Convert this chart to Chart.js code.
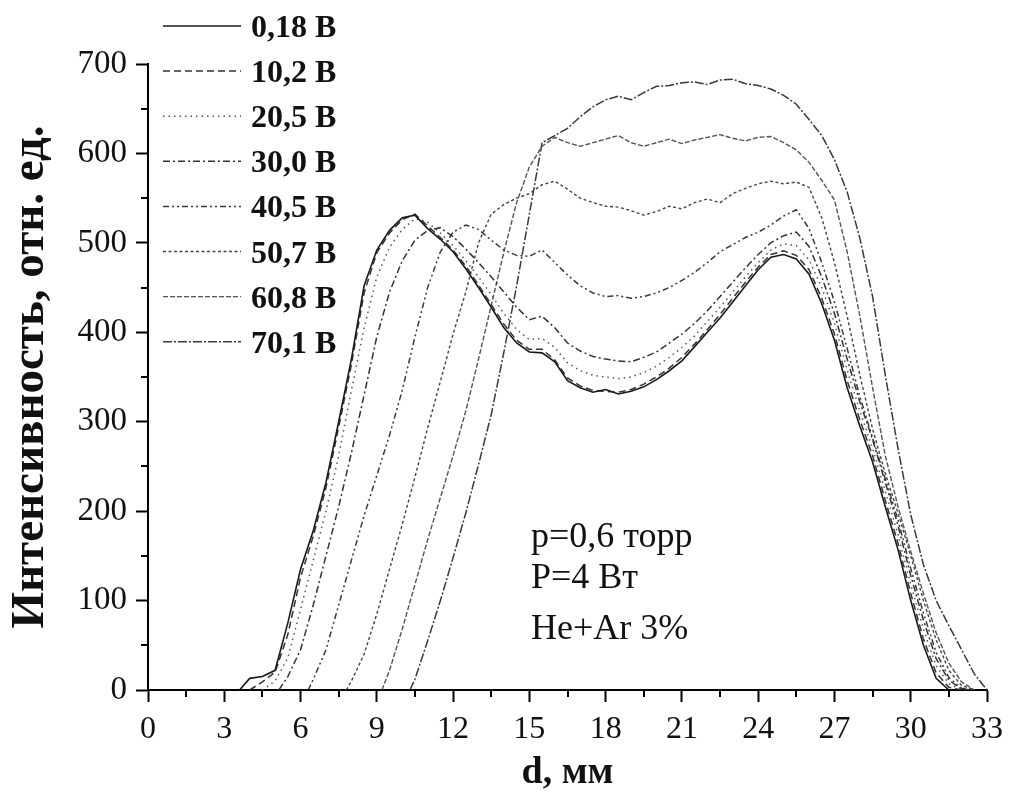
<!DOCTYPE html>
<html><head><meta charset="utf-8">
<script src="https://cdn.jsdelivr.net/npm/chart.js@4/dist/chart.umd.min.js"></script>
<style>html,body{margin:0;padding:0;background:#fff;}#wrap{width:1011px;height:794px;}</style>
</head><body><div id="wrap"><canvas id="c" width="1011" height="794"></canvas></div>
<script>
// distance grid, mm
const xGrid = [3.5,4,4.5,5,5.5,6,6.5,7,7.5,8,8.5,9,9.5,10,10.5,11,11.5,12,12.5,13,13.5,14,14.5,15,15.5,16,16.5,17,17.5,18,18.5,19,19.5,20,20.5,21,21.5,22,22.5,23,23.5,24,24.5,25,25.5,26,26.5,27,27.5,28,28.5,29,29.5,30,30.5,31,31.5,32,32.5,33];
const seriesLabels = ['0,18 В','10,2 В','20,5 В','30,0 В','40,5 В','50,7 В','60,8 В','70,1 В'];
const onsetX = [3.6,4.0,4.5,5.15,6.3,7.8,9.2,10.3];
const v018 = [null,13,15,22,75,135,178,232,300,370,452,492,514,528,531,516,504,490,471,450,428,405,388,378,377,367,346,338,333,336,331,334,339,347,357,368,384,400,416,434,452,470,484,487,482,465,432,391,338,295,255,205,157,100,50,13,0,null,null,null];
const v102 = [null,null,9,20,62,126,172,226,294,364,444,489,511,526,532,519,506,492,474,453,431,409,391,381,381,369,349,340,335,334,333,336,342,350,360,372,387,403,420,438,456,473,487,491,486,470,438,398,346,302,262,212,164,108,57,19,3,0,null,null];
const v205 = [null,null,null,10,36,90,145,200,262,335,405,462,495,515,527,523,511,497,480,462,442,421,403,392,393,383,366,357,352,350,348,350,355,362,372,383,396,412,428,445,462,478,492,499,497,481,450,410,358,312,270,222,174,118,68,27,7,0,null,null];
const v300 = [null,null,null,null,15,45,95,150,205,265,330,395,445,480,503,514,517,507,493,478,462,445,428,414,418,405,388,379,373,370,368,367,372,378,388,398,410,424,440,456,472,487,500,508,512,496,462,421,370,322,280,232,184,128,78,35,11,1,0,null];
const v405 = [null,null,null,null,null,null,12,45,95,145,195,240,285,335,395,450,490,512,520,515,503,492,486,485,492,478,464,452,444,440,441,438,440,444,450,458,467,478,490,498,506,512,520,530,537,516,478,434,382,328,282,236,190,136,86,42,14,2,0,null];
const v507 = [null,null,null,null,null,null,null,null,null,10,40,85,135,185,238,293,345,398,445,500,532,543,550,555,565,569,560,550,545,541,540,536,531,535,541,538,545,549,545,555,561,566,569,566,568,562,528,478,418,352,292,242,198,150,100,56,22,5,0,null];
const v608 = [null,null,null,null,null,null,null,null,null,null,null,null,22,68,118,168,215,262,312,370,430,490,545,585,608,618,612,608,612,616,620,612,608,612,616,611,615,618,621,617,614,618,619,612,604,590,570,548,490,418,338,262,205,155,108,64,30,9,0,null];
const v701 = [null,null,null,null,null,null,null,null,null,null,null,null,null,null,12,55,100,148,198,252,308,378,452,532,612,620,628,641,652,660,664,660,668,675,676,679,680,677,682,683,678,676,672,665,655,638,620,593,557,505,440,352,270,196,140,100,72,45,18,0];
const seriesValues = [v018,v102,v205,v300,v405,v507,v608,v701];
const yMinor = [50,150,250,350,450,550,650];
const xMinor = [1.5,4.5,7.5,10.5,13.5,16.5,19.5,22.5,25.5,28.5,31.5];
const annotationLines = ['p=0,6 торр','P=4 Вт','He+Ar 3%'];

const dashes = [[], [7,4], [1.5,4], [7,3,2,3], [6,3,2,3,2,3], [3,2.5], [5,2], [9,2,2,2]];
const colors = ['#1a1a1a','#333','#555','#333','#3a3a3a','#444','#555','#3a3a3a'];
const widths = [1.6,1.5,1.5,1.5,1.5,1.4,1.4,1.5];

const datasets = seriesValues.map((vals, i) => ({
  label: seriesLabels[i],
  data: [{x: onsetX[i], y: 0}].concat(xGrid.map((x, j) => ({x: x, y: vals[j]})).filter(p => p.y !== null)),
  borderColor: colors[i], borderWidth: widths[i], borderDash: dashes[i],
  pointRadius: 0, tension: 0, fill: false
}));

const SERIF = '"Liberation Serif", "Times New Roman", serif';

const decor = {
  id: 'decor',
  afterDraw(chart) {
    const ctx = chart.ctx, xs = chart.scales.x, ys = chart.scales.y;
    ctx.save();
    ctx.strokeStyle = '#000'; ctx.lineWidth = 2; ctx.setLineDash([]);
    yMinor.forEach(v => { const py = Math.round(ys.getPixelForValue(v)); ctx.beginPath(); ctx.moveTo(ys.right - 7, py); ctx.lineTo(ys.right, py); ctx.stroke(); });
    xMinor.forEach(v => { const px = Math.round(xs.getPixelForValue(v)); ctx.beginPath(); ctx.moveTo(px, xs.top); ctx.lineTo(px, xs.top + 7); ctx.stroke(); });
    // legend
    chart.data.datasets.forEach((ds, i) => {
      const y = 26 + i * 45.1;
      ctx.setLineDash(ds.borderDash || []);
      ctx.strokeStyle = ds.borderColor; ctx.lineWidth = ds.borderWidth;
      ctx.beginPath(); ctx.moveTo(163, y); ctx.lineTo(241, y); ctx.stroke();
      ctx.setLineDash([]);
      ctx.fillStyle = '#111'; ctx.font = 'bold 32px ' + SERIF; ctx.textBaseline = 'alphabetic'; ctx.textAlign = 'left';
      ctx.fillText(ds.label, 251, y + 11);
    });
    // annotation
    ctx.fillStyle = '#111'; ctx.font = '36px ' + SERIF;
    const ys0 = [547, 588, 639];
    annotationLines.forEach((t, i) => ctx.fillText(t, 531, ys0[i]));
    ctx.restore();
  }
};

new Chart(document.getElementById('c'), {
  type: 'line',
  data: { datasets: datasets },
  options: {
    responsive: false, animation: false, devicePixelRatio: 1,
    layout: { padding: { left: 0, top: 64, right: 21, bottom: 0 } },
    plugins: { legend: { display: false }, tooltip: { enabled: false } },
    scales: {
      x: {
        type: 'linear', min: 0, max: 33,
        ticks: { stepSize: 3, color: '#111', font: { family: SERIF, size: 32 }, padding: 8, maxRotation: 0 },
        grid: { display: true, drawOnChartArea: false, drawTicks: true, tickLength: 12, tickColor: '#000', tickWidth: 2 },
        border: { display: true, color: '#000', width: 2 },
        title: { display: true, text: 'd, мм', color: '#111', font: { family: SERIF, size: 38, weight: 'bold', lineHeight: 1 }, padding: { top: 0, bottom: 2 } },
        afterFit: s => { s.height = 104; }
      },
      y: {
        min: 0, max: 700,
        ticks: { stepSize: 100, color: '#111', font: { family: SERIF, size: 33 }, padding: 9 },
        grid: { display: true, drawOnChartArea: false, drawTicks: true, tickLength: 12, tickColor: '#000', tickWidth: 2 },
        border: { display: true, color: '#000', width: 2 },
        title: { display: true, text: 'Интенсивность, отн. ед.', color: '#111', font: { family: SERIF, size: 47, weight: 'bold', lineHeight: 1 }, padding: { top: 7, bottom: 0 } },
        afterFit: s => { s.width = 148; }
      }
    }
  },
  plugins: [decor]
});
</script>
</body></html>
